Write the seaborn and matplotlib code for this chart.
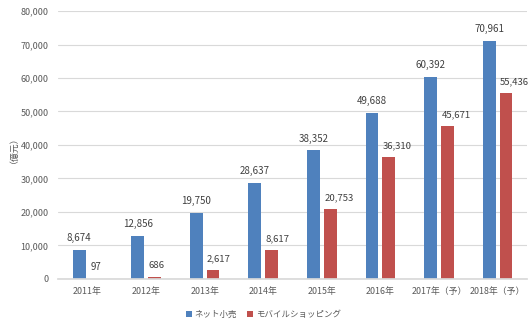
import matplotlib
matplotlib.use("Agg")
import matplotlib.pyplot as plt
import seaborn as sns
import pandas as pd
from matplotlib.ticker import FuncFormatter

categories = ["2011年", "2012年", "2013年", "2014年", "2015年", "2016年", "2017年（予）", "2018年（予）"]
net_retail = [8674, 12856, 19750, 28637, 38352, 49688, 60392, 70961]
mobile_shopping = [97, 686, 2617, 8617, 20753, 36310, 45671, 55436]
series_names = ["ネット小売", "モバイルショッピング"]
colors = ["#4F81BD", "#C0504D"]

sns.set_theme(style="white")
plt.rcParams['font.family'] = ['Noto Sans CJK JP', 'DejaVu Sans']

df = pd.DataFrame({
    "year": categories * 2,
    "value": net_retail + mobile_shopping,
    "series": [series_names[0]] * len(categories) + [series_names[1]] * len(categories),
})

fig = plt.figure(figsize=(5.29, 3.25), dpi=100)
ax = fig.add_axes([0.110, 0.142, 0.886, 0.824])

sns.barplot(data=df, x="year", y="value", hue="series", palette=colors,
            width=0.57, gap=0.23, ax=ax, linewidth=0, saturation=1, legend=True)

text_color = "#404040"
blue_cont, red_cont = ax.containers[0], ax.containers[1]
ax.bar_label(blue_cont, labels=[f"{int(v):,}" for v in blue_cont.datavalues],
             padding=5, fontsize=7, color=text_color)
# red labels: nudged right, starting near the bar's left edge (smallest one centred)
for patch, v in zip(red_cont.patches, red_cont.datavalues):
    if v < 500:
        ax.annotate(f"{int(v):,}", xy=(patch.get_x() + patch.get_width() / 2, patch.get_height()),
                    xytext=(0, 5), textcoords="offset points", ha="center", va="bottom",
                    fontsize=7, color=text_color)
    else:
        ax.annotate(f"{int(v):,}", xy=(patch.get_x(), patch.get_height()),
                    xytext=(0.3, 5), textcoords="offset points", ha="left", va="bottom",
                    fontsize=6.9, color=text_color)

ax.set_ylim(0, 80000)
ax.set_yticks(range(0, 80001, 10000))
ax.yaxis.set_major_formatter(FuncFormatter(lambda v, p: f"{int(v):,}"))
ax.grid(axis="y", color="#D9D9D9", linewidth=0.8)
ax.set_axisbelow(True)
for s in ["top", "right", "left"]:
    ax.spines[s].set_visible(False)
ax.spines["bottom"].set_color("#D9D9D9")
ax.tick_params(axis="y", length=0, labelsize=6.5, labelcolor="#595959", pad=7)
ax.tick_params(axis="x", length=0, labelsize=6.4, labelcolor="#595959", pad=6)
ax.set_xlabel("")
ax.set_ylabel("（億元）", fontsize=6.4, color="#595959", labelpad=5)
ax.set_xlim(-0.5, len(categories) - 0.5)

handles, labels = ax.get_legend_handles_labels()
ax.get_legend().remove()
leg = fig.legend(handles, labels, loc="center", bbox_to_anchor=(263.5 / 529, 1 - 314 / 325),
                 ncol=2, frameon=False, fontsize=6.1, handlelength=0.7, handleheight=0.7,
                 handletextpad=0.3, columnspacing=1.2)
for t in leg.get_texts():
    t.set_color("#595959")

fig.savefig("out.png", dpi=100)
